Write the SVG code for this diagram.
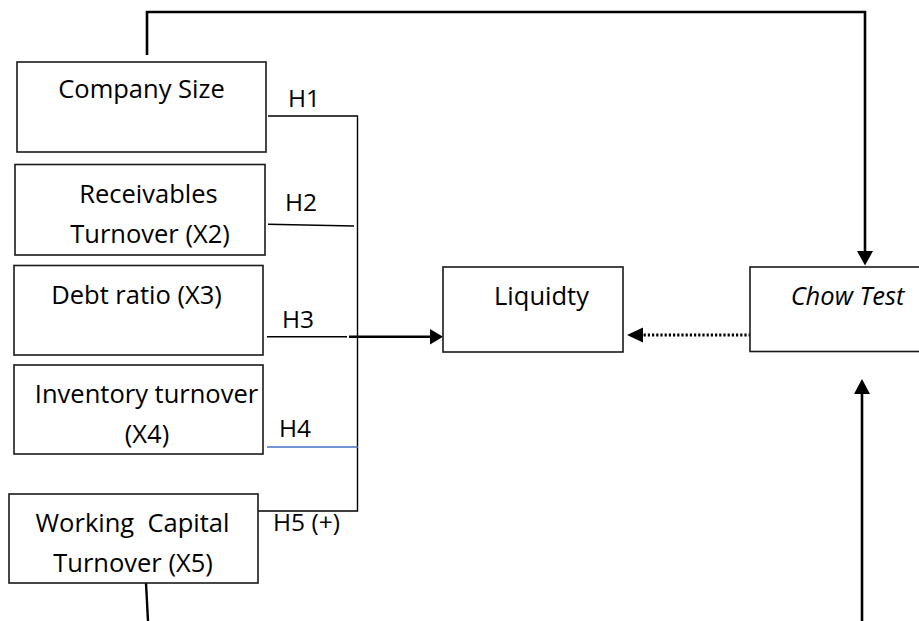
<svg xmlns="http://www.w3.org/2000/svg" width="919" height="621" viewBox="0 0 919 621">
  <style>
    .box { fill: #ffffff; stroke: #1a1a1a; stroke-width: 1.6; }
    .lbl { font-family: "Open Sans", "Noto Sans", sans-serif; font-size: 25.5px; fill: #000; text-anchor: middle; white-space: pre; }
    .hyp { font-family: "Open Sans", "Noto Sans", sans-serif; font-size: 24.5px; fill: #000; white-space: pre; }
    .thin { fill: none; stroke: #000; stroke-width: 1.4; }
    .thick { fill: none; stroke: #000; stroke-width: 2.6; }
    .head { fill: #000; stroke: none; }
  </style>
  <rect width="919" height="621" fill="#ffffff"/>

  <!-- connectors -->
  <g id="connectors">
    <!-- hypothesis bus from the independent variables -->
    <path class="thin" d="M268,116 H357.5 V511 H258"/>
    <path class="thin" d="M268,224.3 L354,226"/>
    <path class="thin" d="M267,336.7 H347"/>
    <path fill="none" stroke="#4472C4" stroke-width="1.6" d="M267,447 H358"/>
    <!-- H3 path into Liquidity -->
    <path class="thick" d="M349,336.7 H431"/>
    <polygon class="head" points="443,336.7 430,329 430,344.4"/>
    <!-- Company Size feed to Chow Test -->
    <path class="thick" d="M147,55 V12 H865 V252"/>
    <polygon class="head" points="865,265.5 857,251 873,251"/>
    <!-- Working Capital feed up to Chow Test -->
    <path fill="none" stroke="#000" stroke-width="2.4" d="M146,583 L148,621"/>
    <path class="thick" d="M862,621 V393"/>
    <polygon class="head" points="862,379 854,394 870,394"/>
    <!-- dotted link from Chow Test to Liquidity -->
    <path fill="none" stroke="#000" stroke-width="2.8" stroke-dasharray="2.2,2" d="M755,335 H642"/>
    <polygon class="head" points="627,335 643,327.5 643,342.5"/>
  </g>

  <!-- independent variables -->
  <g id="company-size">
    <rect class="box" x="17" y="62" width="249" height="90"/>
    <text class="lbl" x="141.5" y="98">Company Size</text>
  </g>
  <g id="receivables-turnover">
    <rect class="box" x="15" y="164.5" width="250" height="90.5"/>
    <text class="lbl" x="148.5" y="203">Receivables</text>
    <text class="lbl" x="150" y="243">Turnover (X2)</text>
  </g>
  <g id="debt-ratio">
    <rect class="box" x="14" y="265.5" width="249" height="89.5"/>
    <text class="lbl" x="136.5" y="304">Debt ratio (X3)</text>
  </g>
  <g id="inventory-turnover">
    <rect class="box" x="14" y="365" width="249" height="89"/>
    <text class="lbl" x="146.5" y="403">Inventory turnover</text>
    <text class="lbl" x="147" y="443">(X4)</text>
  </g>
  <g id="working-capital-turnover">
    <rect class="box" x="9" y="494" width="249" height="89"/>
    <text class="lbl" x="132.5" y="531.5">Working  Capital</text>
    <text class="lbl" x="133" y="571.5">Turnover (X5)</text>
  </g>

  <!-- hypothesis labels -->
  <g id="hypotheses">
    <text class="hyp" x="288" y="107">H1</text>
    <text class="hyp" x="285" y="210.5">H2</text>
    <text class="hyp" x="282" y="327.5">H3</text>
    <text class="hyp" x="279" y="436.5">H4</text>
    <text class="hyp" x="273" y="531">H5 (+)</text>
  </g>

  <!-- dependent variable and test -->
  <g id="liquidity">
    <rect class="box" x="443" y="267" width="180" height="85"/>
    <text class="lbl" x="541.5" y="305">Liquidty</text>
  </g>
  <g id="chow-test">
    <rect class="box" x="750" y="267" width="180" height="84.5"/>
    <text class="lbl" x="847.5" y="305" font-style="italic">Chow Test</text>
  </g>
</svg>
